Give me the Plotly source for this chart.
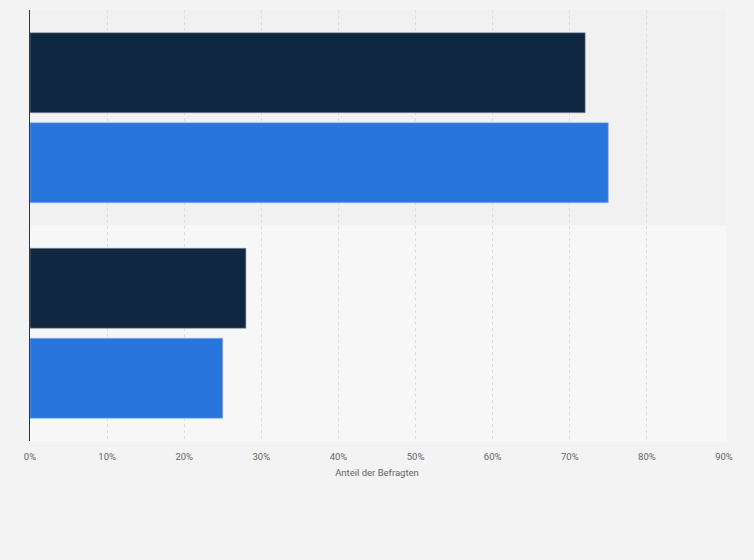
import plotly.graph_objects as go

categories = ["Kategorie 1", "Kategorie 2"]
series_names = ["Serie 1", "Serie 2"]
values_dark = [72, 28]
values_blue = [75, 25]
tick_vals = [0, 10, 20, 30, 40, 50, 60, 70, 80, 90]
tick_text = ["0%", "10%", "20%", "30%", "40%", "50%", "60%", "70%", "80%", "90%"]

fig = go.Figure()
fig.add_trace(go.Bar(
    y=categories, x=values_dark, name=series_names[0], orientation="h",
    marker=dict(color="#0f2741", line=dict(color="#8a96a3", width=0.6))
))
fig.add_trace(go.Bar(
    y=categories, x=values_blue, name=series_names[1], orientation="h",
    marker=dict(color="#2876dd", line=dict(color="#8fb6ee", width=0.6))
))

# alternating category bands
band_colors = ["#f1f1f1", "#f7f7f7"]
for i in range(len(categories)):
    fig.add_shape(type="rect", xref="paper", yref="y",
                  x0=0, x1=1.003, y0=i - 0.5, y1=i + 0.5,
                  fillcolor=band_colors[i % 2], line_width=0, layer="below")

fig.update_layout(
    width=754, height=560,
    margin=dict(l=30, r=30, t=10, b=119),
    paper_bgcolor="#f3f3f3",
    plot_bgcolor="rgba(0,0,0,0)",
    barmode="group",
    bargap=0.165,
    bargroupgap=0.111,
    showlegend=False,
    font=dict(family="Roboto", color="#666666"),
)
fig.update_xaxes(
    range=[0, 90], tickvals=tick_vals, ticktext=tick_text,
    showgrid=True, gridcolor="#dedede", griddash="dot", gridwidth=1,
    zeroline=False, showline=False,
    tickfont=dict(size=9.5, color="#666666"),
    title=dict(text="Anteil der Befragten", font=dict(size=9.5, color="#666666"), standoff=8),
    ticks="", ticklabelstandoff=8,
)
fig.update_yaxes(
    autorange="reversed", showticklabels=False, showgrid=False,
    showline=True, linecolor="#333333", linewidth=1, ticks="",
)

fig.write_html("out.html", config={"displayModeBar": False},
               post_script="document.body.style.margin='0';")
